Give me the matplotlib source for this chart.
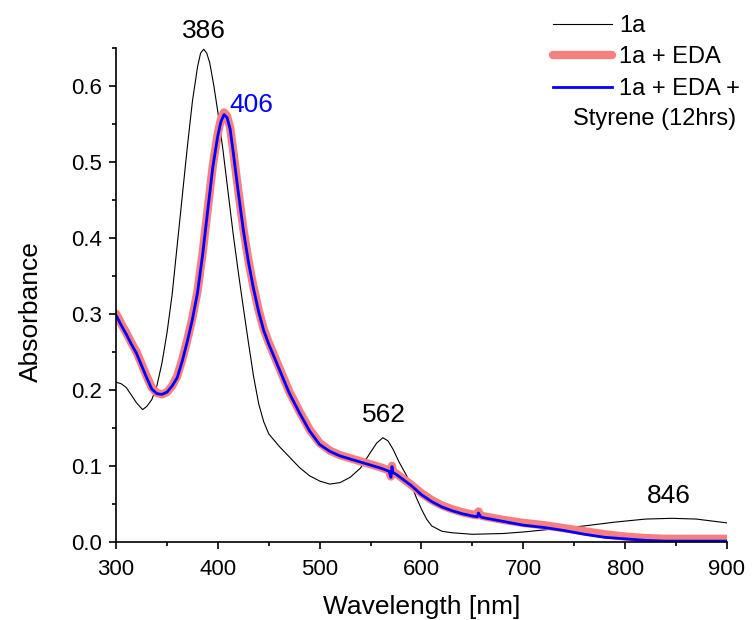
import matplotlib
matplotlib.use("Agg")
import matplotlib.pyplot as plt
from matplotlib.ticker import MultipleLocator

plt.rcParams['font.family'] = ['Liberation Sans', 'DejaVu Sans']

# UV-vis spectrum of 1a
wl_1a = [300, 305, 310, 315, 320, 326, 330, 335, 340, 345, 350, 355, 360, 365,
         370, 375, 380, 383, 386, 389, 392, 396, 400, 405, 410, 415, 420, 425,
         430, 435, 440, 445, 450, 460, 470, 480, 490, 500, 510, 520, 530, 540,
         550, 556, 562, 567, 572, 578, 585, 590, 595, 600, 605, 610, 620, 630,
         650, 680, 700, 730, 760, 790, 820, 846, 870, 900]
abs_1a = [0.210, 0.208, 0.203, 0.193, 0.183, 0.174, 0.178, 0.187, 0.205, 0.235,
          0.275, 0.325, 0.390, 0.455, 0.520, 0.580, 0.625, 0.643, 0.648, 0.643,
          0.630, 0.600, 0.565, 0.515, 0.460, 0.405, 0.355, 0.308, 0.262, 0.218,
          0.182, 0.158, 0.142, 0.126, 0.112, 0.098, 0.087, 0.080, 0.076, 0.078,
          0.085, 0.097, 0.118, 0.130, 0.137, 0.133, 0.122, 0.105, 0.088, 0.075,
          0.058, 0.043, 0.030, 0.021, 0.014, 0.012, 0.010, 0.011, 0.013, 0.017,
          0.021, 0.026, 0.030, 0.031, 0.030, 0.025]

# 1a + EDA, and after adding styrene (12 h)
wl_eda = [300, 305, 310, 315, 320, 325, 330, 335, 340, 345, 350, 355, 360, 365,
          370, 375, 380, 385, 390, 395, 400, 403, 406, 409, 412, 415, 420, 425,
          430, 435, 440, 445, 450, 460, 470, 480, 490, 500, 510, 520, 530, 540,
          550, 560, 568, 570, 571, 572, 575, 580, 590, 600, 610, 620, 630, 640,
          650, 655, 656, 658, 660, 680, 700, 720, 740, 760, 780, 800, 820, 840,
          860, 880, 900]
abs_eda = [0.300, 0.287, 0.275, 0.262, 0.250, 0.234, 0.218, 0.203, 0.196, 0.194,
           0.197, 0.205, 0.218, 0.240, 0.266, 0.295, 0.330, 0.380, 0.438, 0.495,
           0.538, 0.556, 0.565, 0.560, 0.545, 0.515, 0.462, 0.412, 0.370, 0.335,
           0.305, 0.280, 0.262, 0.230, 0.198, 0.172, 0.148, 0.130, 0.120, 0.114,
           0.110, 0.106, 0.102, 0.098, 0.094, 0.086, 0.100, 0.092, 0.090, 0.085,
           0.075, 0.064, 0.055, 0.048, 0.043, 0.039, 0.036, 0.035, 0.040, 0.035,
           0.034, 0.029, 0.025, 0.022, 0.018, 0.014, 0.010, 0.007, 0.005, 0.004,
           0.004, 0.004, 0.004]
abs_sty = [0.298, 0.285, 0.273, 0.260, 0.248, 0.232, 0.216, 0.201, 0.195, 0.194,
           0.197, 0.205, 0.216, 0.238, 0.264, 0.293, 0.328, 0.378, 0.436, 0.493,
           0.535, 0.553, 0.562, 0.558, 0.543, 0.513, 0.460, 0.410, 0.368, 0.333,
           0.303, 0.278, 0.260, 0.228, 0.196, 0.170, 0.146, 0.128, 0.119, 0.113,
           0.109, 0.105, 0.101, 0.097, 0.093, 0.085, 0.099, 0.091, 0.089, 0.084,
           0.074, 0.062, 0.053, 0.046, 0.041, 0.037, 0.034, 0.033, 0.038, 0.033,
           0.032, 0.027, 0.022, 0.019, 0.015, 0.010, 0.006, 0.004, 0.002, 0.001,
           0.001, 0.001, 0.001]

# peak maxima: wavelength, absorbance, colour
peak_wl = [386, 406, 562, 846]
peak_abs = [0.648, 0.562, 0.137, 0.031]
peak_color = ['black', 'blue', 'black', 'black']

fig = plt.figure(figsize=(7.54, 6.2), dpi=100)
ax = fig.add_axes([0.154, 0.126, 0.810, 0.797])

ax.plot(wl_1a, abs_1a, color='black', lw=0.8, label='1a')
ax.plot(wl_eda, abs_eda, color='#F77F7F', lw=6, solid_capstyle='round',
        label='1a + EDA')
ax.plot(wl_eda, abs_sty, color='blue', lw=2, label='1a + EDA +')

# peak positions
offsets = [(0, 0.008, 'center'), (5, -0.003, 'left'),
           (1, 0.014, 'center'), (-3, 0.014, 'center')]
for w, a, c, (dx, dy, ha) in zip(peak_wl, peak_abs, peak_color, offsets):
    ax.text(w + dx, a + dy, str(w), color=c, fontsize=19, ha=ha, va='bottom')

ax.set_xlim(300, 900)
ax.set_ylim(0, 0.65)
ax.xaxis.set_major_locator(MultipleLocator(100))
ax.xaxis.set_minor_locator(MultipleLocator(50))
ax.yaxis.set_major_locator(MultipleLocator(0.1))
ax.yaxis.set_minor_locator(MultipleLocator(0.05))
ax.yaxis.set_major_formatter(plt.FuncFormatter(lambda v, p: f"{v:.1f}"))

for side in ['top', 'right']:
    ax.spines[side].set_visible(False)
for side in ['left', 'bottom']:
    ax.spines[side].set_linewidth(1.2)
ax.tick_params(which='major', length=5, width=1.2, labelsize=16, pad=5)
ax.tick_params(axis='x', which='major', pad=7)
ax.tick_params(which='minor', length=3, width=1.2)

ax.set_xlabel('Wavelength [nm]', fontsize=19, labelpad=11)
ax.set_ylabel('Absorbance', fontsize=19)
ax.yaxis.set_label_coords(-0.12, 0.466)

leg = fig.legend(loc='upper left', bbox_to_anchor=(0.733, 0.976),
                 frameon=False, fontsize=17, handlelength=2.5,
                 handletextpad=0.3, labelspacing=0.4, borderpad=0,
                 borderaxespad=0)
fig.text(0.976, 0.808, 'Styrene (12hrs)', fontsize=17, ha='right',
         va='center')

fig.savefig('out.png', dpi=100)
